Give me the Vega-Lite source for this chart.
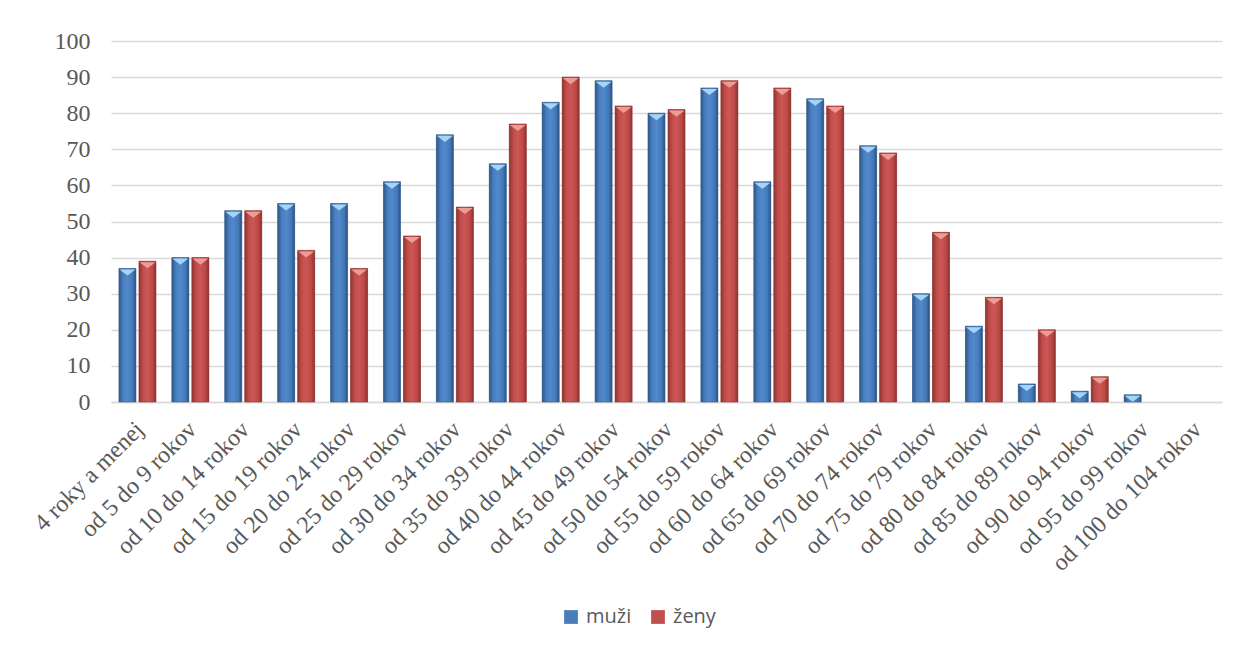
{
  "$schema": "https://vega.github.io/schema/vega-lite/v6.json",
  "width": 1111,
  "height": 361,
  "autosize": "none",
  "padding": {"left": 111, "top": 41, "right": 22, "bottom": 245},
  "background": "white",
  "config": {
    "view": {"stroke": null},
    "axis": {"labelColor": "#595959", "labelFont": "Liberation Serif", "labelFontSize": 24}
  },
  "data": {
    "values": [
      {"vek": "4 roky a menej", "pohlavie": "muži", "pocet": 37},
      {"vek": "4 roky a menej", "pohlavie": "ženy", "pocet": 39},
      {"vek": "od 5 do 9 rokov", "pohlavie": "muži", "pocet": 40},
      {"vek": "od 5 do 9 rokov", "pohlavie": "ženy", "pocet": 40},
      {"vek": "od 10 do 14 rokov", "pohlavie": "muži", "pocet": 53},
      {"vek": "od 10 do 14 rokov", "pohlavie": "ženy", "pocet": 53},
      {"vek": "od 15 do 19 rokov", "pohlavie": "muži", "pocet": 55},
      {"vek": "od 15 do 19 rokov", "pohlavie": "ženy", "pocet": 42},
      {"vek": "od 20 do 24 rokov", "pohlavie": "muži", "pocet": 55},
      {"vek": "od 20 do 24 rokov", "pohlavie": "ženy", "pocet": 37},
      {"vek": "od 25 do 29 rokov", "pohlavie": "muži", "pocet": 61},
      {"vek": "od 25 do 29 rokov", "pohlavie": "ženy", "pocet": 46},
      {"vek": "od 30 do 34 rokov", "pohlavie": "muži", "pocet": 74},
      {"vek": "od 30 do 34 rokov", "pohlavie": "ženy", "pocet": 54},
      {"vek": "od 35 do 39 rokov", "pohlavie": "muži", "pocet": 66},
      {"vek": "od 35 do 39 rokov", "pohlavie": "ženy", "pocet": 77},
      {"vek": "od 40 do 44 rokov", "pohlavie": "muži", "pocet": 83},
      {"vek": "od 40 do 44 rokov", "pohlavie": "ženy", "pocet": 90},
      {"vek": "od 45 do 49 rokov", "pohlavie": "muži", "pocet": 89},
      {"vek": "od 45 do 49 rokov", "pohlavie": "ženy", "pocet": 82},
      {"vek": "od 50 do 54 rokov", "pohlavie": "muži", "pocet": 80},
      {"vek": "od 50 do 54 rokov", "pohlavie": "ženy", "pocet": 81},
      {"vek": "od 55 do 59 rokov", "pohlavie": "muži", "pocet": 87},
      {"vek": "od 55 do 59 rokov", "pohlavie": "ženy", "pocet": 89},
      {"vek": "od 60 do 64 rokov", "pohlavie": "muži", "pocet": 61},
      {"vek": "od 60 do 64 rokov", "pohlavie": "ženy", "pocet": 87},
      {"vek": "od 65 do 69 rokov", "pohlavie": "muži", "pocet": 84},
      {"vek": "od 65 do 69 rokov", "pohlavie": "ženy", "pocet": 82},
      {"vek": "od 70 do 74 rokov", "pohlavie": "muži", "pocet": 71},
      {"vek": "od 70 do 74 rokov", "pohlavie": "ženy", "pocet": 69},
      {"vek": "od 75 do 79 rokov", "pohlavie": "muži", "pocet": 30},
      {"vek": "od 75 do 79 rokov", "pohlavie": "ženy", "pocet": 47},
      {"vek": "od 80 do 84 rokov", "pohlavie": "muži", "pocet": 21},
      {"vek": "od 80 do 84 rokov", "pohlavie": "ženy", "pocet": 29},
      {"vek": "od 85 do 89 rokov", "pohlavie": "muži", "pocet": 5},
      {"vek": "od 85 do 89 rokov", "pohlavie": "ženy", "pocet": 20},
      {"vek": "od 90 do 94 rokov", "pohlavie": "muži", "pocet": 3},
      {"vek": "od 90 do 94 rokov", "pohlavie": "ženy", "pocet": 7},
      {"vek": "od 95 do 99 rokov", "pohlavie": "muži", "pocet": 2},
      {"vek": "od 95 do 99 rokov", "pohlavie": "ženy", "pocet": 0},
      {"vek": "od 100 do 104 rokov", "pohlavie": "muži", "pocet": 0},
      {"vek": "od 100 do 104 rokov", "pohlavie": "ženy", "pocet": 0}
    ]
  },
  "encoding": {
    "x": {
      "field": "vek",
      "type": "nominal",
      "sort": null,
      "title": null,
      "scale": {"paddingInner": 0.3, "paddingOuter": 0.15},
      "axis": {
        "labelAngle": -45,
        "labelPadding": 15,
        "labelOffset": -6,
        "labelLimit": 0,
        "ticks": false,
        "domainColor": "#D9D9D9",
        "domainWidth": 1.5,
        "labelOverlap": false
      }
    },
    "xOffset": {
      "field": "pohlavie",
      "type": "nominal",
      "scale": {"domain": ["muži", "ženy"], "paddingInner": 0.15}
    },
    "y": {
      "field": "pocet",
      "type": "quantitative",
      "title": null,
      "scale": {"domain": [0, 100], "nice": false},
      "axis": {
        "values": [0, 10, 20, 30, 40, 50, 60, 70, 80, 90, 100],
        "domain": false,
        "ticks": false,
        "labelPadding": 21,
        "gridColor": "#D9D9D9",
        "gridWidth": 1.3
      }
    }
  },
  "layer": [
    {
      "mark": {"type": "bar"},
      "encoding": {
        "color": {
          "field": "pohlavie",
          "type": "nominal",
          "title": null,
          "scale": {"domain": ["muži", "ženy"], "range": ["#4A7EBB", "#C0504D"]},
          "legend": {
            "orient": "none",
            "legendX": 450,
            "legendY": 566,
            "direction": "horizontal",
            "symbolType": "square",
            "symbolSize": 190,
            "symbolStrokeWidth": 0,
            "labelFont": "Open Sans",
            "labelFontSize": 20,
            "labelColor": "#595959",
            "columnPadding": 16,
            "labelOffset": 5
          }
        }
      }
    },
    {
      "transform": [{"filter": "datum.pohlavie === 'muži' && datum.pocet > 0"}],
      "mark": {
        "type": "bar",
        "stroke": "#36608F",
        "strokeWidth": 0.6,
        "fill": {
          "gradient": "linear", "x1": 0, "y1": 0, "x2": 1, "y2": 0,
          "stops": [
            {"offset": 0, "color": "#2E5786"},
            {"offset": 0.25, "color": "#4A7FC0"},
            {"offset": 0.5, "color": "#5089CC"},
            {"offset": 0.8, "color": "#4479B8"},
            {"offset": 1, "color": "#2B5080"}
          ]
        }
      },
      "encoding": {}
    },
    {
      "transform": [{"filter": "datum.pohlavie === 'ženy' && datum.pocet > 0"}],
      "mark": {
        "type": "bar",
        "stroke": "#8E3533",
        "strokeWidth": 0.6,
        "fill": {
          "gradient": "linear", "x1": 0, "y1": 0, "x2": 1, "y2": 0,
          "stops": [
            {"offset": 0, "color": "#8E3432"},
            {"offset": 0.25, "color": "#C24E4B"},
            {"offset": 0.5, "color": "#CC5754"},
            {"offset": 0.8, "color": "#BB4946"},
            {"offset": 1, "color": "#8A3230"}
          ]
        }
      },
      "encoding": {}
    },
    {
      "transform": [{"filter": "datum.pohlavie === 'muži' && datum.pocet > 0"}],
      "mark": {
        "type": "point",
        "filled": true,
        "shape": "M-1,0L1,0L0,0.75Z",
        "size": 260,
        "color": "#A5D4F7",
        "opacity": 1,
        "yOffset": 1
      },
      "encoding": {}
    },
    {
      "transform": [{"filter": "datum.pohlavie === 'ženy' && datum.pocet > 0"}],
      "mark": {
        "type": "point",
        "filled": true,
        "shape": "M-1,0L1,0L0,0.75Z",
        "size": 260,
        "color": "#EC9B97",
        "opacity": 1,
        "yOffset": 1
      },
      "encoding": {}
    }
  ]
}
